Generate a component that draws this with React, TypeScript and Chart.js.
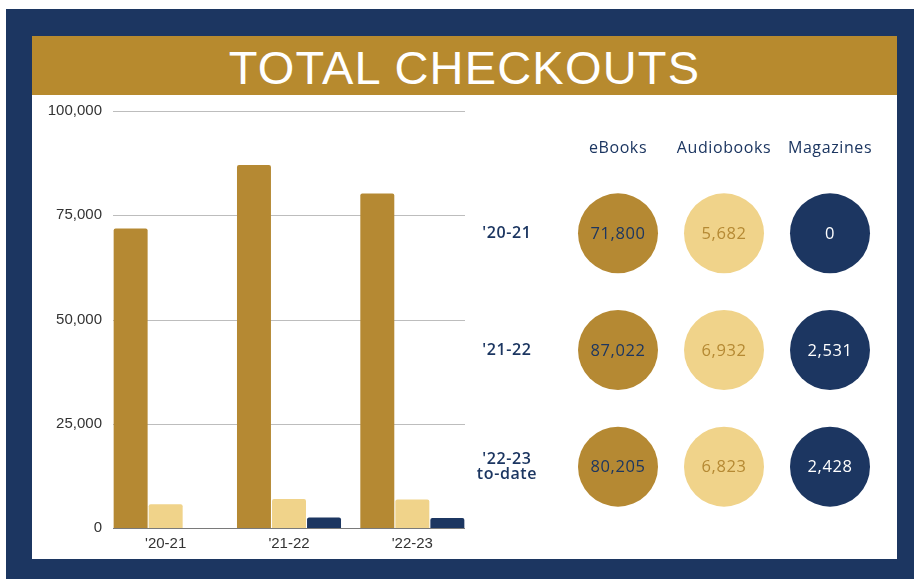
import React, { useEffect, useRef } from 'react';
import { Chart, registerables } from 'chart.js';

Chart.register(...registerables);

// ---- data ----
const years = ["'20-21", "'21-22", "'22-23"];
const rowKeys = ["'20-21", "'21-22", "'22-23 to-date"];
const rowLabels: (string | string[])[] = ["'20-21", "'21-22", ["'22-23", 'to-date']];
const seriesNames = ['eBooks', 'Audiobooks', 'Magazines'];
const ebooks = [71800, 87022, 80205];
const audiobooks = [5682, 6932, 6823];
const magazines = [0, 2531, 2428];
const yTickValues = [0, 25000, 50000, 75000, 100000];
const titleText = 'TOTAL CHECKOUTS';

// ---- styles ----
const NAVY = '#1C3661';
const GOLD = '#B58933';
const TITLE_GOLD = '#B78A2E';
const LIGHT = '#F0D38A';
const seriesColors = [GOLD, LIGHT, NAVY];
const bubbleTextColors = [NAVY, GOLD, '#FFFFFF'];

const insetGrid = {
  id: 'insetGrid',
  beforeDatasetsDraw(chart: any) {
    const { ctx, chartArea, scales } = chart;
    const y = scales.y;
    const x0 = chartArea.left + 9;
    const x1 = chartArea.right - 9;
    ctx.save();
    ctx.lineWidth = 1;
    yTickValues.forEach((v) => {
      const py = Math.round(y.getPixelForValue(v)) + 0.5;
      ctx.strokeStyle = v === 0 ? '#7a7a7a' : '#bdbdbd';
      ctx.beginPath();
      ctx.moveTo(x0, py);
      ctx.lineTo(x1, py);
      ctx.stroke();
    });
    ctx.restore();
  },
};

const spacing = {
  id: 'spacing',
  beforeInit(chart: any) {
    try {
      chart.ctx.letterSpacing = '0.6px';
    } catch (e) {}
  },
  beforeDraw(chart: any) {
    try {
      chart.ctx.letterSpacing = '0.6px';
    } catch (e) {}
  },
};

const bubbleText = {
  id: 'bubbleText',
  afterDatasetsDraw(chart: any) {
    const { ctx } = chart;
    ctx.save();
    ctx.font = '500 16.5px "Open Sans"';
    ctx.textAlign = 'center';
    ctx.textBaseline = 'middle';
    chart.data.datasets.forEach((ds: any, i: number) => {
      const meta = chart.getDatasetMeta(i);
      meta.data.forEach((el: any, j: number) => {
        ctx.fillStyle = bubbleTextColors[i];
        ctx.fillText(Number(ds.data[j].v).toLocaleString('en-US'), el.x, el.y + 1);
      });
    });
    ctx.restore();
  },
};

function BarChart() {
  const ref = useRef<HTMLCanvasElement | null>(null);
  useEffect(() => {
    if (!ref.current) return;
    const chart = new Chart(ref.current, {
      type: 'bar',
      data: {
        labels: years,
        datasets: [
          { label: seriesNames[0], data: ebooks, backgroundColor: seriesColors[0] },
          { label: seriesNames[1], data: audiobooks, backgroundColor: seriesColors[1] },
          { label: seriesNames[2], data: magazines, backgroundColor: seriesColors[2] },
        ].map((d) => ({
          ...d,
          barPercentage: 0.97,
          categoryPercentage: 0.852,
          borderRadius: { topLeft: 2, topRight: 2, bottomLeft: 0, bottomRight: 0 },
          borderSkipped: 'start',
        })) as any,
      },
      options: {
        responsive: false,
        animation: false,
        events: [],
        layout: { padding: { left: 0, right: 6, top: 16, bottom: 0 } },
        plugins: { legend: { display: false }, tooltip: { enabled: false } },
        scales: {
          x: {
            type: 'category',
            grid: { display: false, drawTicks: false },
            border: { display: false },
            ticks: {
              padding: 7,
              color: '#333333',
              font: { family: '"Liberation Sans", Arial, sans-serif', size: 15 },
            },
            afterFit: (s: any) => {
              s.height = 31;
              s.paddingLeft = 0;
              s.paddingRight = 0;
            },
          },
          y: {
            min: 0,
            max: 100000,
            grid: { display: false, drawTicks: false },
            border: { display: false },
            afterBuildTicks: (s: any) => {
              s.ticks = yTickValues.map((v) => ({ value: v }));
            },
            ticks: {
              padding: 2,
              color: '#333333',
              font: { family: '"Liberation Sans", Arial, sans-serif', size: 15 },
              callback: (v: any) => Number(v).toLocaleString('en-US'),
            },
            afterFit: (s: any) => {
              s.width = 72;
            },
          },
        },
      },
      plugins: [insetGrid],
    });
    return () => chart.destroy();
  }, []);
  return (
    <canvas
      ref={ref}
      width={448}
      height={464}
      style={{ position: 'absolute', left: 32, top: 95, width: 448, height: 464 }}
    />
  );
}

function BubbleTable() {
  const ref = useRef<HTMLCanvasElement | null>(null);
  useEffect(() => {
    if (!ref.current) return;
    const values = [ebooks, audiobooks, magazines];
    const chart = new Chart(ref.current, {
      type: 'bubble',
      data: {
        datasets: seriesNames.map((name, si) => ({
          label: name,
          data: values[si].map((v, ri) => ({ x: seriesNames[si], y: rowKeys[ri], r: 40, v })),
          backgroundColor: seriesColors[si],
          borderWidth: 0,
          hoverRadius: 0,
          clip: false,
        })) as any,
      },
      options: {
        responsive: false,
        animation: false,
        events: [],
        layout: { autoPadding: false, padding: { left: 0, right: 14, top: 0, bottom: 34 } },
        plugins: { legend: { display: false }, tooltip: { enabled: false } },
        scales: {
          x: {
            type: 'category',
            labels: seriesNames,
            position: 'top',
            offset: true,
            grid: { display: false, drawTicks: false },
            border: { display: false },
            ticks: {
              padding: 17,
              color: NAVY,
              font: { family: '"Open Sans", sans-serif', size: 16, weight: '500' },
            },
            afterFit: (s: any) => {
              s.height = 80;
              s.paddingLeft = 0;
              s.paddingRight = 0;
            },
          },
          y: {
            type: 'category',
            labels: rowKeys,
            offset: true,
            grid: { display: false, drawTicks: false },
            border: { display: false },
            ticks: {
              padding: 30,
              crossAlign: 'center',
              color: NAVY,
              font: { family: '"Open Sans", sans-serif', size: 16, weight: '600', lineHeight: 0.95 },
              callback: (_v: any, i: number) => rowLabels[i],
            },
            afterFit: (s: any) => {
              s.width = 99;
              s.paddingTop = 0;
              s.paddingBottom = 0;
            },
          },
        },
      },
      plugins: [spacing, bubbleText],
    });
    return () => chart.destroy();
  }, []);
  return (
    <canvas
      ref={ref}
      width={431}
      height={464}
      style={{ position: 'absolute', left: 466, top: 95, width: 431, height: 464 }}
    />
  );
}

export default function App() {
  return (
    <div
      style={{
        position: 'fixed',
        left: 0,
        top: 0,
        width: 914,
        height: 579,
        background: '#ffffff',
        overflow: 'hidden',
      }}
    >
      <div style={{ position: 'absolute', left: 6, top: 9, width: 908, height: 570, background: NAVY }} />
      <div style={{ position: 'absolute', left: 32, top: 36, width: 865, height: 523, background: '#ffffff' }} />
      <div
        style={{
          position: 'absolute',
          left: 32,
          top: 36,
          width: 865,
          height: 59,
          background: TITLE_GOLD,
          color: '#ffffff',
          textAlign: 'center',
          fontFamily: '"Liberation Sans", Arial, sans-serif',
          fontSize: 47,
          letterSpacing: 1.2,
          boxSizing: 'border-box',
          paddingTop: 5,
          whiteSpace: 'nowrap',
        }}
      >
        <div style={{ lineHeight: '54px' }}>{titleText}</div>
      </div>
      <BarChart />
      <BubbleTable />
    </div>
  );
}
